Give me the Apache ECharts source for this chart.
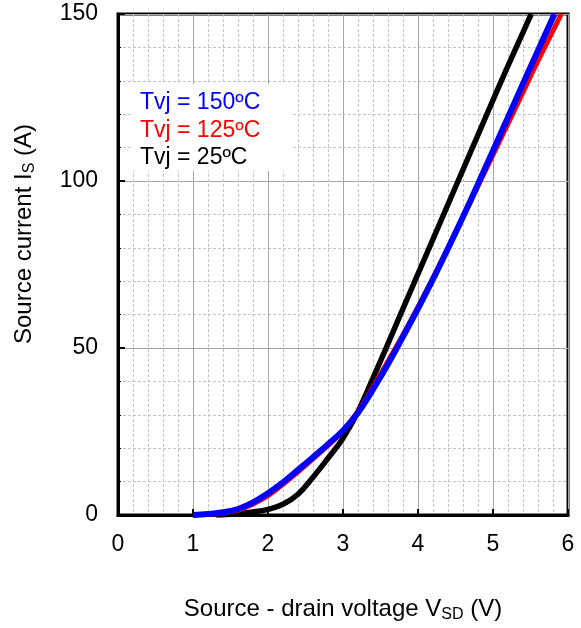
<!DOCTYPE html>
<html>
<head>
<meta charset="utf-8">
<script src="https://cdn.jsdelivr.net/npm/echarts@6/dist/echarts.min.js"></script>
<style>html,body{margin:0;padding:0;background:#fff}#c{width:581px;height:628px}</style>
</head>
<body>
<div id="c"></div>
<script>
// Source-drain voltage (V) and source current (A) per junction temperature
const v25   = [1.3, 1.4, 1.6, 1.8, 2.0, 2.2, 2.4, 2.6, 2.8, 3.0, 3.2, 3.4, 3.6, 3.8, 4.0, 4.2, 4.4, 4.6, 4.8, 5.0, 5.2, 5.4, 5.51];
const i25   = [0, 0.1, 0.4, 0.9, 1.7, 3.2, 6.2, 11.3, 17, 23, 31, 41, 51.3, 61.8, 72.2, 82.6, 93, 103.4, 113.8, 124.2, 134.5, 144.5, 150];
const v125  = [1.0, 1.2, 1.4, 1.6, 1.8, 2.0, 2.2, 2.4, 2.6, 2.8, 3.0, 3.2, 3.4, 3.6, 3.8, 4.0, 4.2, 4.4, 4.6, 4.8, 5.0, 5.2, 5.4, 5.6, 5.8, 5.91];
const i125  = [0, 0.2, 0.6, 1.5, 3.3, 5.8, 9.2, 12.9, 16.8, 20.8, 25.2, 31, 38.3, 46, 54, 62.3, 71, 80, 89.2, 98.5, 107.8, 117.2, 126.6, 136, 145, 150];
const v150  = [1.0, 1.2, 1.4, 1.6, 1.8, 2.0, 2.2, 2.4, 2.6, 2.8, 3.0, 3.2, 3.4, 3.6, 3.8, 4.0, 4.2, 4.4, 4.6, 4.8, 5.0, 5.2, 5.4, 5.6, 5.82];
const i150  = [0, 0.3, 0.8, 1.8, 3.8, 6.5, 9.8, 13.5, 17.3, 21.2, 25.3, 30.6, 37.6, 45.2, 53.4, 61.8, 70.6, 79.8, 89.3, 99.1, 109.1, 119.1, 129.1, 139.1, 150];
const legendLabels = ['Tvj = 150ºC', 'Tvj = 125ºC', 'Tvj = 25ºC'];
const xTitle = 'Source - drain voltage V';
const xSub = 'SD';
const yTitle = 'Source current I';
const ySub = 'S';

const pairs = (xs, ys) => xs.map((x, i) => [x, ys[i]]);
const FONT = 'Liberation Sans, Arial, sans-serif';
const FS = 23;
const rich = {a: {fontSize: 24, fontFamily: FONT, color: '#000'}, s: {fontSize: 16, fontFamily: FONT, color: '#000', padding: [12, 0, 0, 0]}};
const chart = echarts.init(document.getElementById('c'), null, {renderer: 'canvas'});
chart.setOption({
  animation: false,
  backgroundColor: '#fff',
  grid: {left: 118, right: 13, top: 14, bottom: 113, show: true, borderColor: '#000', borderWidth: 3, backgroundColor: 'transparent'},
  xAxis: {
    type: 'value', min: 0, max: 6, interval: 1,
    axisLine: {show: true, onZero: false, lineStyle: {color: '#000', width: 3}},
    axisTick: {show: true, inside: true, length: 6, lineStyle: {color: '#000', width: 2}},
    minorTick: {show: false, splitNumber: 5},
    splitLine: {show: true, lineStyle: {color: '#a6a6a6', width: 1}},
    minorSplitLine: {show: true, lineStyle: {color: '#c4c4c4', width: 1, type: [3, 2]}},
    axisLabel: {color: '#000', fontSize: FS, fontFamily: FONT, margin: 18},
    name: '{a|' + xTitle + '}{s|' + xSub + '}{a| (V)}',
    nameLocation: 'middle', nameGap: 80,
    nameTextStyle: {rich: rich}
  },
  yAxis: {
    type: 'value', min: 0, max: 150, interval: 50,
    axisLine: {show: true, lineStyle: {color: '#000', width: 3}},
    axisTick: {show: true, inside: true, length: 7, lineStyle: {color: '#000', width: 2}},
    minorTick: {show: true, splitNumber: 5, length: 3, lineStyle: {color: '#000', width: 1}},
    splitLine: {show: true, lineStyle: {color: '#a6a6a6', width: 1}},
    minorSplitLine: {show: true, lineStyle: {color: '#c4c4c4', width: 1, type: [3, 2]}},
    axisLabel: {color: '#000', fontSize: FS, fontFamily: FONT, margin: 20}
  },
  series: [
    {type: 'line', data: pairs(v25, i25), smooth: 0.4, symbol: 'none', lineStyle: {color: '#000', width: 5.5}, z: 3},
    {type: 'line', data: pairs(v125, i125), smooth: 0.4, symbol: 'none', lineStyle: {color: '#ff0000', width: 5}, z: 4},
    {type: 'line', data: pairs(v150, i150), smooth: 0.4, symbol: 'none', lineStyle: {color: '#0000ff', width: 6}, z: 5}
  ],
  graphic: [
    {type: 'text', x: 24, y: 234, rotation: Math.PI / 2,
     style: {text: '{a|' + yTitle + '}{s|' + ySub + '}{a| (A)}', rich: rich, align: 'center', verticalAlign: 'middle'}, z: 11},
    {type: 'rect', left: 131, top: 84, shape: {width: 161, height: 87}, style: {fill: '#fff'}, z: 10},
    {type: 'text', left: 140, top: 91, style: {text: legendLabels[0], fill: '#0000ff', font: FS + 'px ' + FONT}, z: 11},
    {type: 'text', left: 140, top: 119, style: {text: legendLabels[1], fill: '#ff0000', font: FS + 'px ' + FONT}, z: 11},
    {type: 'text', left: 140, top: 146, style: {text: legendLabels[2], fill: '#000', font: FS + 'px ' + FONT}, z: 11}
  ]
});
</script>
</body>
</html>
